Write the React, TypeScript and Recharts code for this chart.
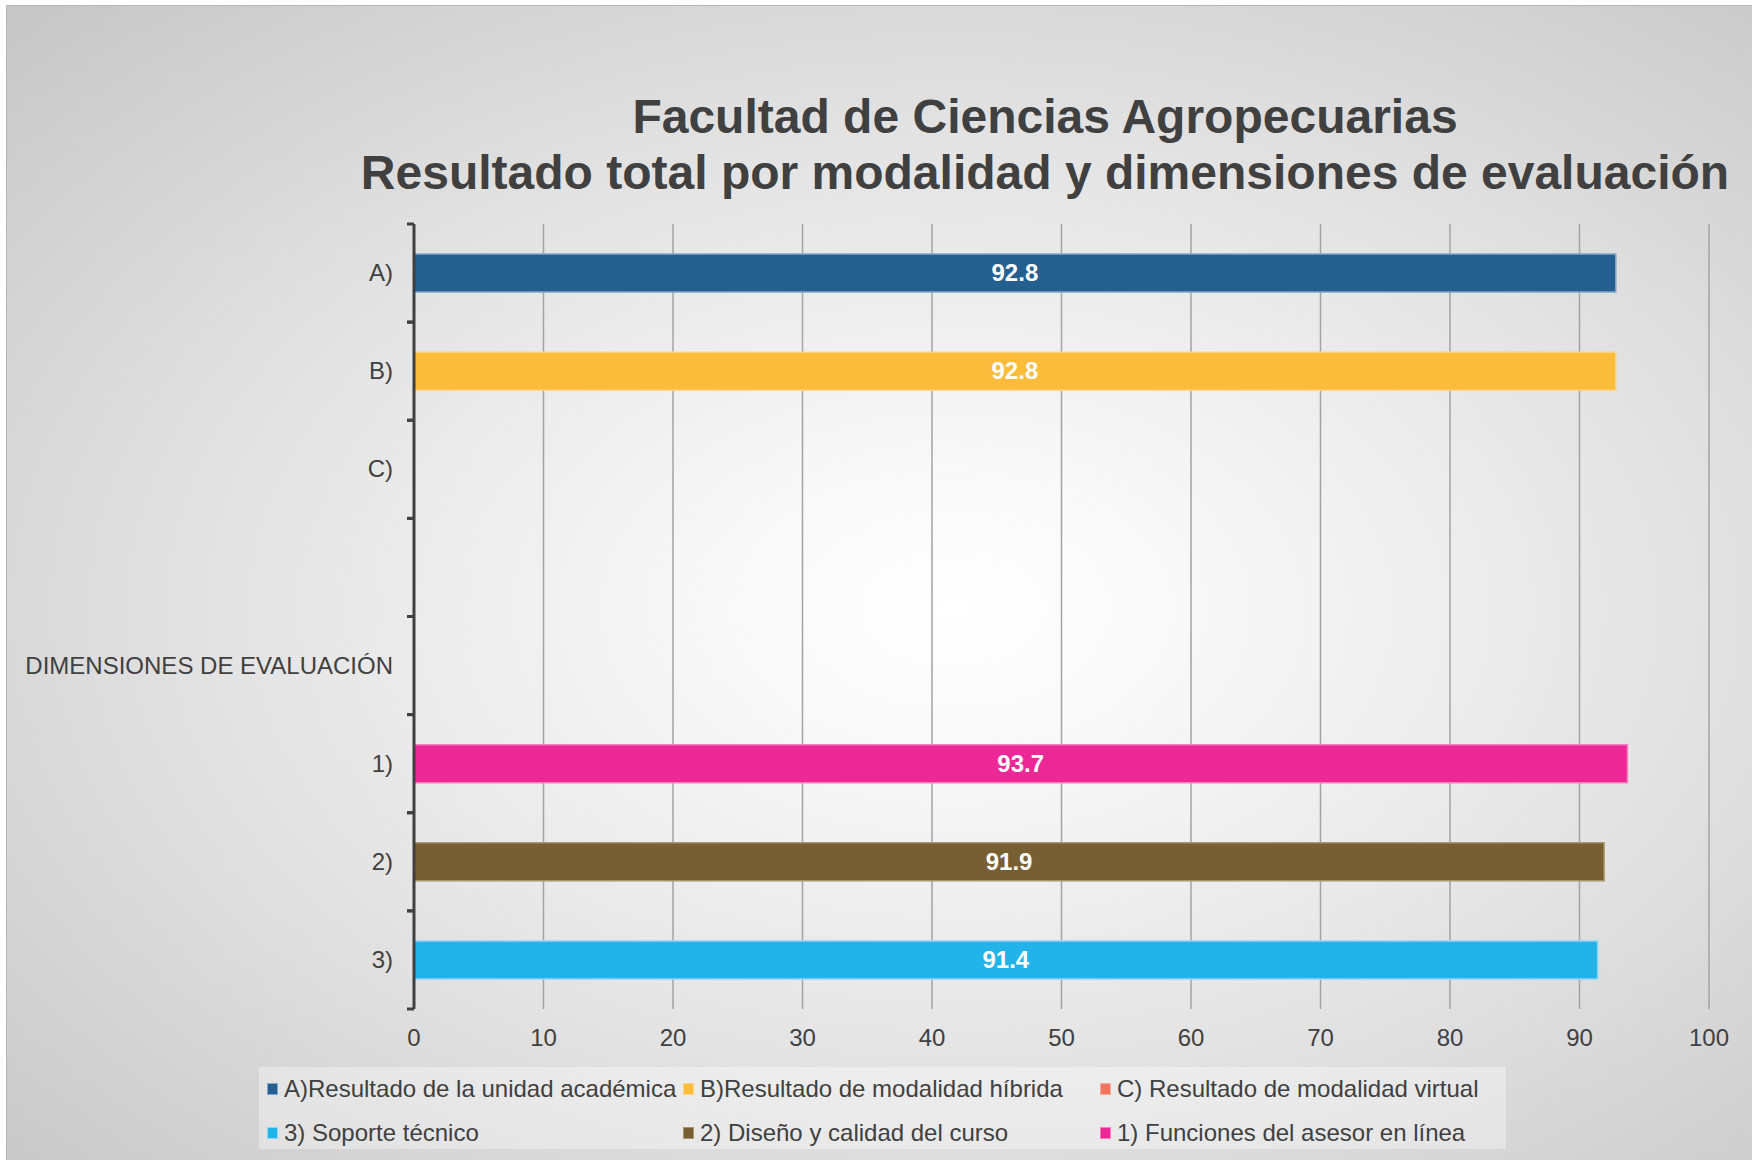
import React from "react";
import { BarChart, Bar, XAxis, YAxis, CartesianGrid, LabelList } from "recharts";

const titleLines = ["Facultad de Ciencias Agropecuarias", "Resultado total por modalidad y dimensiones de evaluación"];
const categories = ["A)", "B)", "C)", " ", "DIMENSIONES DE EVALUACIÓN", "1)", "2)", "3)"];
const seriesKeys = ["A", "B", "C", "S3", "S2", "S1"];
const seriesNames = [
  "A)Resultado de la unidad académica",
  "B)Resultado de modalidad híbrida",
  "C) Resultado de modalidad virtual",
  "3) Soporte técnico",
  "2) Diseño y calidad del curso",
  "1) Funciones del asesor en línea",
];
const seriesCategory = ["A)", "B)", "C)", "3)", "2)", "1)"];
const seriesValues: (number | null)[] = [92.8, 92.8, null, 91.4, 91.9, 93.7];
const seriesColors = ["#245f90", "#fbbc3c", "#f27562", "#22b4e8", "#775e33", "#ec2896"];
const seriesBorders = ["#7fa6cc", "#fcd487", "#f7a99d", "#8dd6f3", "#a8956f", "#f37fbe"];
const xTicks = [0, 10, 20, 30, 40, 50, 60, 70, 80, 90, 100];

const data = categories.map((cat) => {
  const row: Record<string, any> = { cat };
  seriesKeys.forEach((k, i) => {
    if (seriesCategory[i] === cat && seriesValues[i] != null) row[k] = seriesValues[i];
  });
  return row;
});

const FONT = "'Liberation Sans', Arial, sans-serif";
const TXT = "#404040";

const YTick = (props: any) => {
  const { x, y, payload } = props;
  const off = payload && typeof payload.offset === "number" && payload.offset > 0 ? payload.offset : 49;
  return (
    <g>
      <line x1={x - 7} x2={x} y1={y - off} y2={y - off} stroke="#404040" strokeWidth={3} />
      <line x1={x - 7} x2={x} y1={y + off} y2={y + off} stroke="#404040" strokeWidth={3} />
      <text x={x - 21} y={y + 8} textAnchor="end" fontSize={24} fontFamily={FONT} fill={TXT}>
        {payload.value}
      </text>
    </g>
  );
};

const XTick = (props: any) => {
  const { x, y, payload } = props;
  return (
    <text x={x} y={y + 37} textAnchor="middle" fontSize={24} fontFamily={FONT} fill={TXT}>
      {payload.value}
    </text>
  );
};

const BarLabel = (props: any) => {
  const { x, y, width, height, value } = props;
  if (value == null || value === 0 || !width) return null;
  return (
    <text
      x={x + width / 2}
      y={y + height / 2 + 8}
      textAnchor="middle"
      fontSize={24}
      fontWeight="bold"
      fontFamily={FONT}
      fill="#ffffff"
    >
      {value}
    </text>
  );
};

export default function App() {
  return (
    <div style={{ position: "absolute", left: 0, top: 0, width: 1752, height: 1160, background: "#ffffff", overflow: "hidden" }}>
      <div
        style={{
          position: "absolute",
          left: 6,
          top: 5,
          width: 1752,
          height: 1160,
          borderTop: "1px solid #b5b5b5",
          borderLeft: "1px solid #b5b5b5",
          background: "radial-gradient(ellipse farthest-corner at 54% 52%, #ffffff 0%, #f8f8f8 18%, #e3e3e3 55%, #c6c6c6 100%)",
        }}
      />
      <div
        style={{
          position: "absolute",
          left: 1045,
          top: 89,
          transform: "translateX(-50%)",
          whiteSpace: "nowrap",
          textAlign: "center",
          fontFamily: FONT,
          fontWeight: "bold",
          fontSize: 48,
          lineHeight: "56px",
          color: TXT,
        }}
      >
        {titleLines.map((t) => (
          <div key={t}>{t}</div>
        ))}
      </div>
      <div style={{ position: "absolute", left: 0, top: 0 }}>
        <BarChart
          width={1752}
          height={1160}
          data={data}
          layout="vertical"
          margin={{ top: 224, right: 43, bottom: 121, left: 0 }}
          barSize={38}
        >
          <CartesianGrid horizontal={false} vertical={true} stroke="#a3a3a3" strokeWidth={1.5} />
          <XAxis
            type="number"
            domain={[0, 100]}
            ticks={xTicks}
            axisLine={false}
            tickLine={false}
            tickSize={0}
            tickMargin={0}
            height={30}
            tick={<XTick />}
            interval={0}
          />
          <YAxis
            type="category"
            dataKey="cat"
            width={414}
            axisLine={{ stroke: "#404040", strokeWidth: 3 }}
            tickLine={false}
            tickSize={0}
            tickMargin={0}
            tick={<YTick />}
            interval={0}
          />
          {seriesKeys.map((k, i) => (
            <Bar
              key={k}
              dataKey={k}
              name={seriesNames[i]}
              stackId="s"
              fill={seriesColors[i]}
              stroke={seriesBorders[i]}
              strokeWidth={1.5}
              isAnimationActive={false}
            >
              <LabelList dataKey={k} content={<BarLabel />} />
            </Bar>
          ))}
        </BarChart>
      </div>
      <div
        style={{
          position: "absolute",
          left: 259,
          top: 1067,
          width: 1247,
          height: 82,
          background: "rgba(255,255,255,0.35)",
        }}
      >
        {seriesNames.map((name, i) => {
          const col = i % 3;
          const row = Math.floor(i / 3);
          const lefts = [8, 424, 841];
          return (
            <div
              key={name}
              style={{
                position: "absolute",
                left: lefts[col],
                top: row * 44 + 6,
                height: 32,
                display: "flex",
                alignItems: "center",
                whiteSpace: "nowrap",
                fontFamily: FONT,
                fontSize: 24,
                color: TXT,
              }}
            >
              <span
                style={{
                  display: "inline-block",
                  width: 9,
                  height: 10,
                  background: seriesColors[i],
                  border: `1px solid ${seriesBorders[i]}`,
                  marginRight: 6,
                }}
              />
              {name}
            </div>
          );
        })}
      </div>
    </div>
  );
}
